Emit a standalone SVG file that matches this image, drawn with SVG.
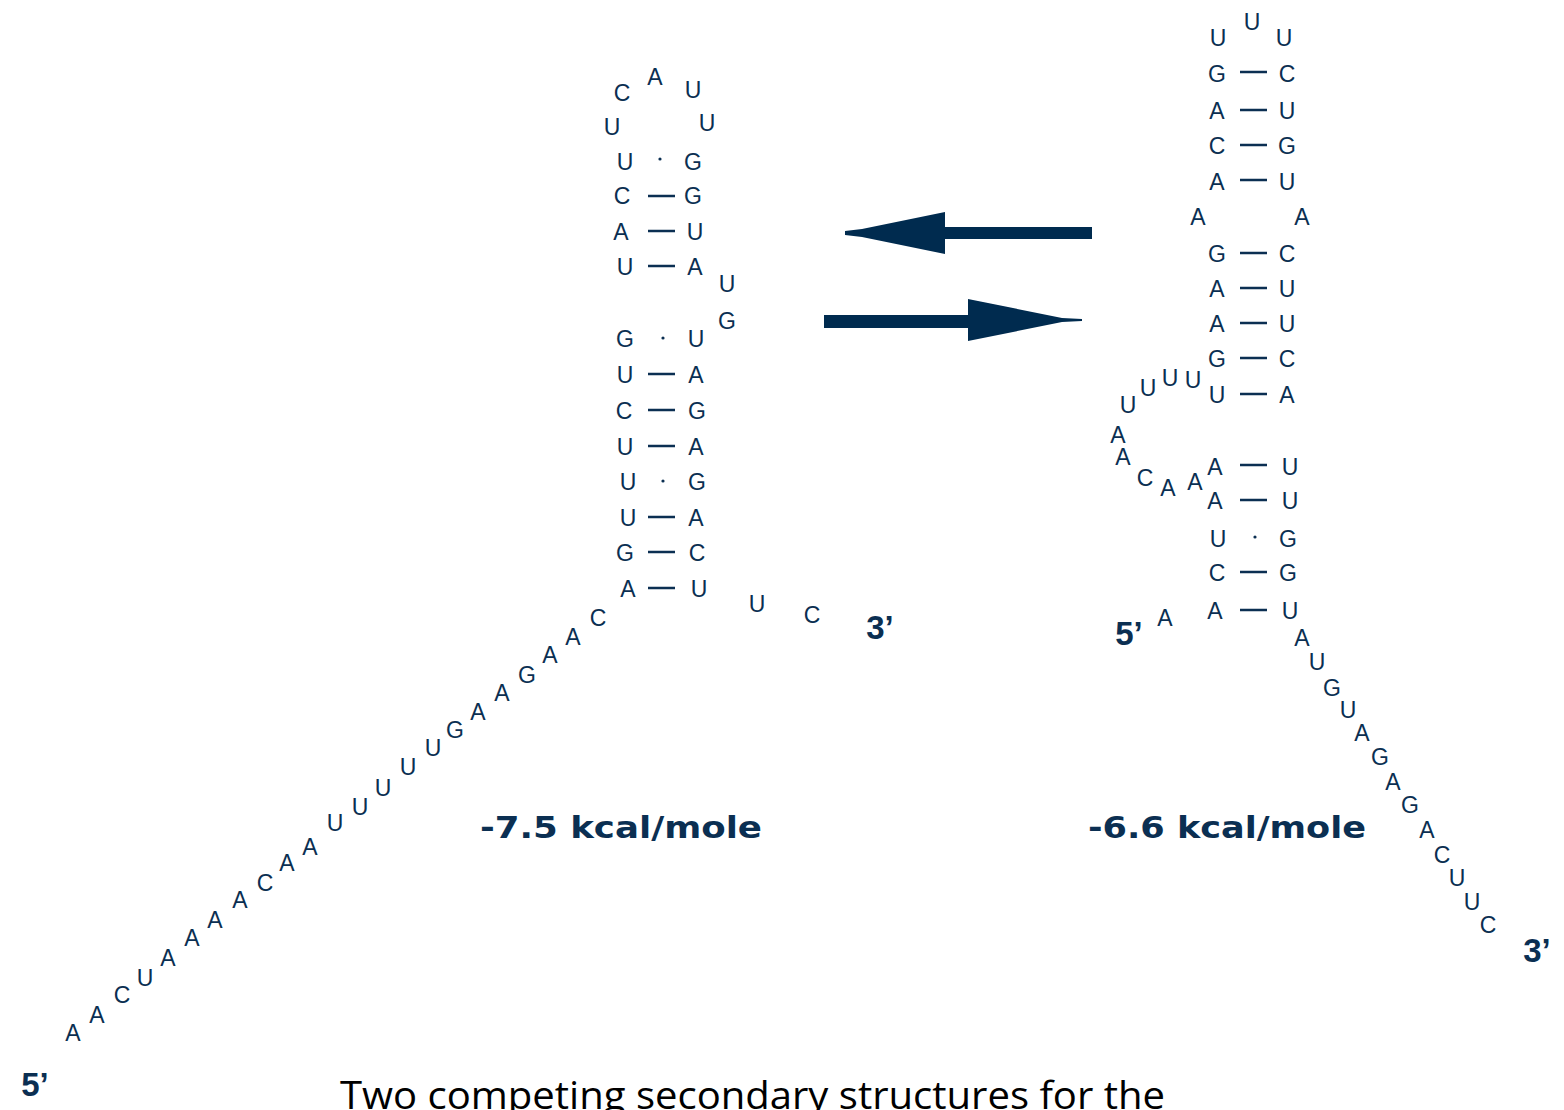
<svg xmlns="http://www.w3.org/2000/svg" width="1564" height="1110" viewBox="0 0 1564 1110">
<style>
.nt{font-family:"Liberation Sans",Arial,sans-serif;font-size:23px;fill:#0b2f52;text-anchor:middle}
.end{font-family:"Liberation Sans",Arial,sans-serif;font-size:33px;font-weight:bold;fill:#0b2f52;text-anchor:middle}
.en{font-family:"DejaVu Sans","Liberation Sans",sans-serif;font-size:31px;font-weight:bold;fill:#0b2f52}
.cap{font-family:"Open Sans","Liberation Sans",sans-serif;font-size:38px;fill:#000}
.bond{stroke:#0b2f52;stroke-width:2.5;fill:none}
.dot{fill:#0b2f52}
.arr{fill:#002b4f}
</style>
<rect width="1564" height="1110" fill="#fff"/>
<g id="structure-left">
<text class="nt" x="622" y="101">C</text><text class="nt" x="655" y="85">A</text><text class="nt" x="693" y="98">U</text>
<text class="nt" x="612" y="135">U</text><text class="nt" x="707" y="131">U</text>
<text class="nt" x="625" y="170">U</text><text class="nt" x="693" y="170">G</text>
<text class="nt" x="622" y="204">C</text><text class="nt" x="693" y="204">G</text>
<text class="nt" x="621" y="240">A</text><text class="nt" x="695" y="240">U</text>
<text class="nt" x="625" y="275">U</text><text class="nt" x="695" y="275">A</text>
<text class="nt" x="727" y="292">U</text><text class="nt" x="727" y="329">G</text>
<text class="nt" x="625" y="347">G</text><text class="nt" x="696" y="347">U</text>
<text class="nt" x="625" y="383">U</text><text class="nt" x="696" y="383">A</text>
<text class="nt" x="624" y="419">C</text><text class="nt" x="697" y="419">G</text>
<text class="nt" x="625" y="455">U</text><text class="nt" x="696" y="455">A</text>
<text class="nt" x="628" y="490">U</text><text class="nt" x="697" y="490">G</text>
<text class="nt" x="628" y="526">U</text><text class="nt" x="696" y="526">A</text>
<text class="nt" x="625" y="561">G</text><text class="nt" x="697" y="561">C</text>
<text class="nt" x="628" y="597">A</text><text class="nt" x="699" y="597">U</text>
<text class="nt" x="757" y="612">U</text><text class="nt" x="812" y="623">C</text>
<text class="end" x="880" y="639">3’</text>
<text class="nt" x="598" y="626">C</text><text class="nt" x="573" y="645">A</text><text class="nt" x="550" y="663">A</text>
<text class="nt" x="527" y="683">G</text><text class="nt" x="502" y="701">A</text><text class="nt" x="478" y="720">A</text>
<text class="nt" x="455" y="738">G</text><text class="nt" x="433" y="756">U</text><text class="nt" x="408" y="775">U</text>
<text class="nt" x="383" y="796">U</text><text class="nt" x="360" y="815">U</text><text class="nt" x="335" y="831">U</text>
<text class="nt" x="310" y="855">A</text><text class="nt" x="287" y="871">A</text><text class="nt" x="265" y="891">C</text>
<text class="nt" x="240" y="908">A</text><text class="nt" x="215" y="928">A</text><text class="nt" x="192" y="946">A</text>
<text class="nt" x="168" y="966">A</text><text class="nt" x="145" y="986">U</text><text class="nt" x="122" y="1003">C</text>
<text class="nt" x="97" y="1023">A</text><text class="nt" x="73" y="1041">A</text>
<text class="end" x="35" y="1096">5’</text>
<path class="bond" d="M648 196H675M648 231H675M648 266H675M648 374H675M648 410H675M648 446H675M648 517H675M648 552H675M648 588H675"/>
<circle class="dot" cx="660" cy="159" r="1.6"/><circle class="dot" cx="663" cy="338" r="1.6"/><circle class="dot" cx="663" cy="481" r="1.6"/>
<text class="en" x="480" y="838" textLength="282" lengthAdjust="spacingAndGlyphs">-7.5 kcal/mole</text>
</g>
<g id="structure-right">
<text class="nt" x="1218" y="46">U</text><text class="nt" x="1252" y="30">U</text><text class="nt" x="1284" y="46">U</text>
<text class="nt" x="1217" y="82">G</text><text class="nt" x="1287" y="82">C</text>
<text class="nt" x="1217" y="119">A</text><text class="nt" x="1287" y="119">U</text>
<text class="nt" x="1217" y="154">C</text><text class="nt" x="1287" y="154">G</text>
<text class="nt" x="1217" y="190">A</text><text class="nt" x="1287" y="190">U</text>
<text class="nt" x="1198" y="225">A</text><text class="nt" x="1302" y="225">A</text>
<text class="nt" x="1217" y="262">G</text><text class="nt" x="1287" y="262">C</text>
<text class="nt" x="1217" y="297">A</text><text class="nt" x="1287" y="297">U</text>
<text class="nt" x="1217" y="332">A</text><text class="nt" x="1287" y="332">U</text>
<text class="nt" x="1217" y="367">G</text><text class="nt" x="1287" y="367">C</text>
<text class="nt" x="1217" y="403">U</text><text class="nt" x="1287" y="403">A</text>
<text class="nt" x="1128" y="413">U</text><text class="nt" x="1148" y="396">U</text><text class="nt" x="1170" y="386">U</text><text class="nt" x="1193" y="388">U</text>
<text class="nt" x="1118" y="443">A</text><text class="nt" x="1123" y="465">A</text><text class="nt" x="1145" y="486">C</text>
<text class="nt" x="1168" y="496">A</text><text class="nt" x="1195" y="490">A</text>
<text class="nt" x="1215" y="475">A</text><text class="nt" x="1290" y="475">U</text>
<text class="nt" x="1215" y="509">A</text><text class="nt" x="1290" y="509">U</text>
<text class="nt" x="1218" y="547">U</text><text class="nt" x="1288" y="547">G</text>
<text class="nt" x="1217" y="581">C</text><text class="nt" x="1288" y="581">G</text>
<text class="nt" x="1215" y="619">A</text><text class="nt" x="1290" y="619">U</text>
<text class="nt" x="1165" y="626">A</text>
<text class="end" x="1129" y="645">5’</text>
<text class="nt" x="1302" y="646">A</text><text class="nt" x="1317" y="670">U</text><text class="nt" x="1332" y="696">G</text>
<text class="nt" x="1348" y="718">U</text><text class="nt" x="1362" y="741">A</text><text class="nt" x="1380" y="765">G</text>
<text class="nt" x="1393" y="790">A</text><text class="nt" x="1410" y="813">G</text><text class="nt" x="1427" y="838">A</text>
<text class="nt" x="1442" y="863">C</text><text class="nt" x="1457" y="886">U</text><text class="nt" x="1472" y="910">U</text>
<text class="nt" x="1488" y="933">C</text>
<text class="end" x="1537" y="962">3’</text>
<path class="bond" d="M1240 72H1267M1240 110H1267M1240 145H1267M1240 180H1267M1240 253H1267M1240 288H1267M1240 323H1267M1240 358H1267M1240 394H1267M1240 465H1267M1240 500H1267M1240 572H1267M1240 610H1267"/>
<circle class="dot" cx="1255" cy="537" r="1.6"/>
<text class="en" x="1088" y="838" textLength="278" lengthAdjust="spacingAndGlyphs">-6.6 kcal/mole</text>
</g>
<g id="connectors">
<path class="arr" d="M945 227H1092V239H945V254L862 237L845 235V231L862 229L945 212Z"/>
<path class="arr" d="M824 315H968V299L1062 318L1082 319V321L1062 322L968 341V328H824Z"/>
</g>
<g id="caption">
<text class="cap" x="340" y="1109" textLength="825" lengthAdjust="spacingAndGlyphs">Two competing secondary structures for the</text>
</g>
</svg>
